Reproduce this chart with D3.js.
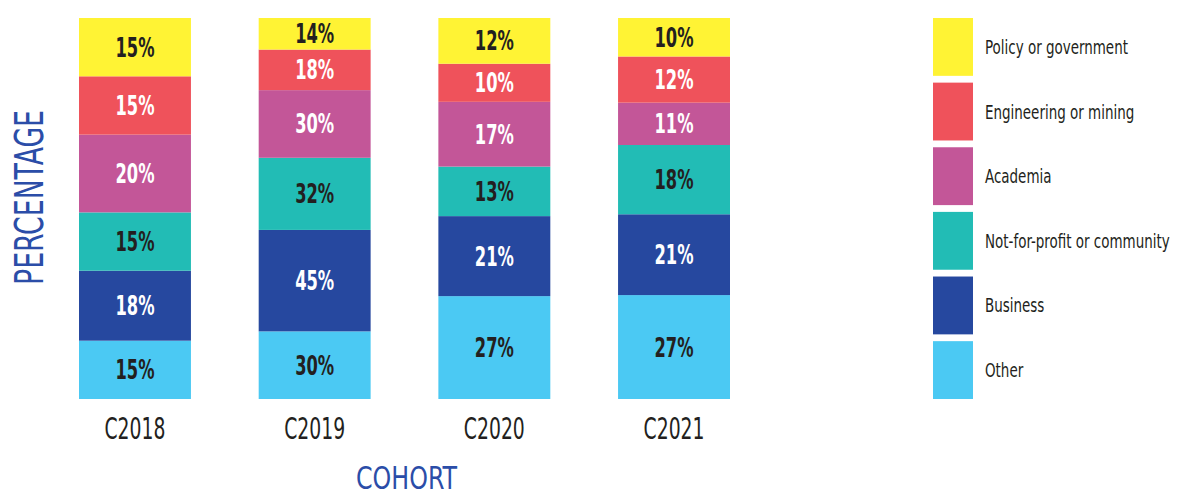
<!DOCTYPE html>
<html>
<head>
<meta charset="utf-8">
<script src="https://cdn.jsdelivr.net/npm/d3@7"></script>
<style>
  html, body { margin: 0; padding: 0; background: #fff; }
  svg { display: block; }
  text { font-family: "Liberation Sans Narrow", "DejaVu Sans Condensed", "Roboto", sans-serif; }
</style>
</head>
<body>
<svg id="chart" width="1177" height="497"></svg>
<script>
// ---- data ----
const categories = ["C2018", "C2019", "C2020", "C2021"];
// series listed bottom-to-top of each stack
const seriesNames = ["Other", "Business", "Not-for-profit or community", "Academia", "Engineering or mining", "Policy or government"];
const otherVals      = [15, 30, 27, 27];
const businessVals   = [18, 45, 21, 21];
const notForProfit   = [15, 32, 13, 18];
const academiaVals   = [20, 30, 17, 11];
const engineeringVals= [15, 18, 10, 12];
const policyVals     = [15, 14, 12, 10];
const seriesValues = [otherVals, businessVals, notForProfit, academiaVals, engineeringVals, policyVals];
const seriesColors = ["#4BC9F3", "#26489F", "#22BCB5", "#C35698", "#EF525B", "#FFF334"];
const labelColors  = ["#231F20", "#FFFFFF", "#231F20", "#FFFFFF", "#FFFFFF", "#231F20"];
const legendOrder = ["Policy or government", "Engineering or mining", "Academia", "Not-for-profit or community", "Business", "Other"];
const xTitle = "COHORT";
const yTitle = "PERCENTAGE";

// ---- build table ----
const table = categories.map((c, i) => {
  const row = { cohort: c };
  seriesNames.forEach((s, j) => row[s] = seriesValues[j][i]);
  return row;
});

const svg = d3.select("#chart");
const ink = "#231F20";
const titleBlue = "#2B4DA8";

// horizontal squeeze factor so that a sample string reaches a target width
function squeeze(sample, size, weight, target) {
  const t = svg.append("text").attr("font-size", size).attr("font-weight", weight).text(sample);
  const w = t.node().getComputedTextLength();
  t.remove();
  return w > 0 ? Math.min(1, target / w) : 1;
}

const x = d3.scaleBand().domain(categories).range([79, 730]).paddingInner(0.377).paddingOuter(0);
const y = d3.scaleLinear().domain([0, 1]).range([399, 18]);
const color = d3.scaleOrdinal().domain(seriesNames).range(seriesColors);
const labelColor = d3.scaleOrdinal().domain(seriesNames).range(labelColors);

const stacked = d3.stack().keys(seriesNames).offset(d3.stackOffsetExpand)(table);

const layers = svg.append("g").selectAll("g")
  .data(stacked).join("g")
  .attr("fill", d => color(d.key));

layers.selectAll("rect")
  .data(d => d.map(p => Object.assign(p, { key: d.key })))
  .join("rect")
  .attr("x", d => x(d.data.cohort))
  .attr("width", x.bandwidth())
  .attr("y", d => y(d[1]))
  .attr("height", d => y(d[0]) - y(d[1]));

// value labels
const valFont = 26;
const valScale = squeeze("15%", valFont, "bold", 39);
layers.selectAll("text")
  .data(d => d)
  .join("text")
  .attr("transform", d => {
    const cx = x(d.data.cohort) + x.bandwidth() / 2;
    const cy = (y(d[0]) + y(d[1])) / 2 + 9.5;
    return `translate(${cx},${cy}) scale(${valScale},1)`;
  })
  .attr("text-anchor", "middle")
  .attr("font-size", valFont)
  .attr("font-weight", "bold")
  .attr("fill", d => labelColor(d.key))
  .text(d => d.data[d.key] + "%");

// x axis tick labels
const tickFont = 30;
const tickScale = squeeze("C2018", tickFont, "normal", 61);
const xAxis = svg.append("g")
  .attr("transform", "translate(0,399)")
  .call(d3.axisBottom(x).tickSize(0).tickPadding(0));
xAxis.select(".domain").remove();
xAxis.selectAll(".tick text")
  .attr("y", null).attr("dy", null)
  .attr("font-family", null)
  .attr("font-size", tickFont)
  .attr("fill", ink)
  .attr("transform", `translate(0,40) scale(${tickScale},1)`);

// axis titles
const xtFont = 32;
svg.append("text")
  .attr("transform", `translate(406.5,489) scale(${squeeze(xTitle, xtFont, "normal", 101)},1)`)
  .attr("text-anchor", "middle")
  .attr("font-size", xtFont)
  .attr("fill", titleBlue)
  .text(xTitle);

const ytFont = 39;
svg.append("text")
  .attr("transform", `translate(43,197.5) rotate(-90) scale(${squeeze(yTitle, ytFont, "normal", 175)},1)`)
  .attr("text-anchor", "middle")
  .attr("font-size", ytFont)
  .attr("fill", titleBlue)
  .text(yTitle);

// legend
const legY = d3.scaleBand().domain(legendOrder).range([18, 399]).paddingInner(0.105).paddingOuter(0);
const leg = svg.append("g").selectAll("g")
  .data(legendOrder).join("g");
leg.append("rect")
  .attr("x", 933)
  .attr("y", d => legY(d))
  .attr("width", 40)
  .attr("height", legY.bandwidth())
  .attr("fill", d => color(d));
const legFont = 19;
const legScale = squeeze("Policy or government", legFont, "normal", 143);
leg.append("text")
  .attr("transform", d => `translate(985,${legY(d) + legY.bandwidth() / 2 + 7}) scale(${legScale},1)`)
  .attr("font-size", legFont)
  .attr("fill", ink)
  .text(d => d);
</script>
</body>
</html>
